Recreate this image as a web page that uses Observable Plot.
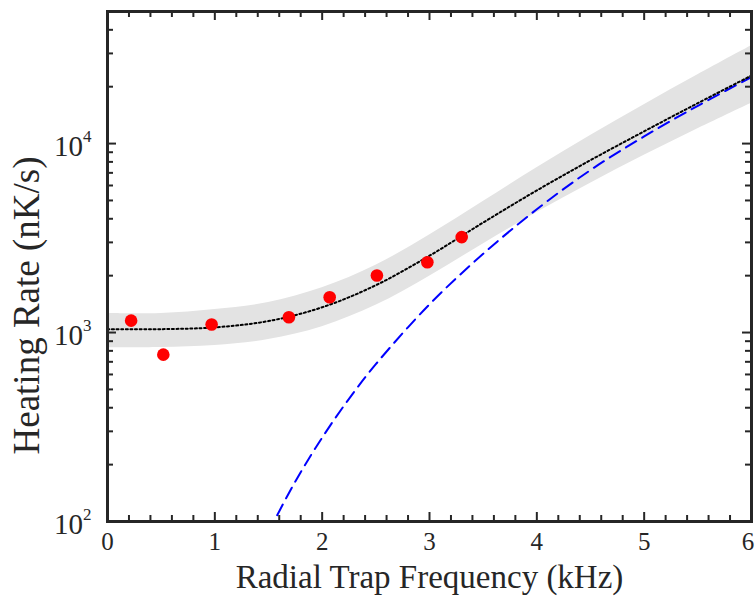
<!DOCTYPE html>
<html>
<head>
<meta charset="utf-8">
<script src="https://cdn.jsdelivr.net/npm/d3@7"></script>
<script src="https://cdn.jsdelivr.net/npm/@observablehq/plot@0.6"></script>
<style>
  html, body { margin: 0; padding: 0; background: #fff; }
  #chart svg { display: block; }
</style>
</head>
<body>
<div id="chart"></div>
<script>
// ---- data ----
const measFreq = [0.22, 0.52, 0.97, 1.69, 2.07, 2.51, 2.98, 3.30];      // kHz
const measRate = [1156, 764, 1102, 1205, 1538, 2004, 2355, 3200];       // nK/s

const fitFreq  = [0, 0.5, 1, 1.5, 2, 2.5, 3, 3.5, 4, 4.5, 5, 5.5, 6];
const fitRate  = [1040, 1042, 1065, 1150, 1360, 1780, 2550, 3820, 5650, 8170, 11610, 16370, 22910];
const bandLow  = [832, 834, 855, 918, 1074, 1393, 1986, 2944, 4315, 6170, 8670, 11990, 16370];
const bandHigh = [1260, 1262, 1324, 1442, 1726, 2270, 3281, 4930, 7460, 11040, 16070, 23120, 32900];

const modelFreq = [1.5, 1.75, 2, 2.25, 2.5, 3, 3.5, 4, 4.5, 5, 5.5, 6];
const modelRate = [88, 163, 278, 446, 680, 1410, 2610, 4490, 7240, 10910, 15850, 22490];

const xMajor = [0, 1, 2, 3, 4, 5, 6];
const xMinor = [0.2, 0.4, 0.6, 0.8, 1.2, 1.4, 1.6, 1.8, 2.2, 2.4, 2.6, 2.8, 3.2, 3.4, 3.6, 3.8,
                4.2, 4.4, 4.6, 4.8, 5.2, 5.4, 5.6, 5.8];
const yMajor = [100, 1000, 10000];
const yExponent = ["2", "3", "4"];
const yMinor = [200, 300, 400, 500, 600, 700, 800, 900,
                2000, 3000, 4000, 5000, 6000, 7000, 8000, 9000,
                20000, 30000, 40000];

const xLabel = "Radial Trap Frequency (kHz)";
const yLabel = "Heating Rate (nK/s)";

// ---- tables ----
const meas  = measFreq.map((f, i) => ({f, r: measRate[i]}));
const fit   = fitFreq.map((f, i) => ({f, r: fitRate[i]}));
const band  = fitFreq.map((f, i) => ({f, lo: bandLow[i], hi: bandHigh[i]}));
const model = modelFreq.map((f, i) => ({f, r: modelRate[i]}));
const yTickLabels = yMajor.map((v, i) => ({v, e: yExponent[i]}));

const ink = "#262626";
const W = 755, H = 598, mL = 107, mR = 4, mT = 11, mB = 77;
const fw = W - mL - mR, fh = H - mT - mB;
const major = 9, minor = 6;
const tick = {stroke: ink, strokeWidth: 2};

const chart = Plot.plot({
  width: W,
  height: H,
  marginLeft: mL,
  marginRight: mR,
  marginTop: mT,
  marginBottom: mB,
  x: {domain: [0, 6], axis: null},
  y: {type: "log", domain: [100, 50000], axis: null},
  style: {fontFamily: "'Liberation Serif', 'Times New Roman', serif", color: ink, background: "#fff"},
  marks: [
    Plot.areaY(band, {x: "f", y1: "lo", y2: "hi", fill: "#e3e3e3", curve: "catmull-rom"}),
    Plot.lineY(model, {x: "f", y: "r", stroke: "#0000ff", strokeWidth: 2, strokeDasharray: "12,7", curve: "catmull-rom", clip: true}),
    Plot.lineY(fit, {x: "f", y: "r", stroke: "#000", strokeWidth: 2, strokeDasharray: "2,2.6", curve: "catmull-rom"}),
    Plot.dot(meas, {x: "f", y: "r", r: 6.3, fill: "#ff0000"}),

    // inward ticks on all four sides
    Plot.ruleX(xMajor, {x: d => d, insetTop: fh - major, ...tick}),
    Plot.ruleX(xMinor, {x: d => d, insetTop: fh - minor, ...tick}),
    Plot.ruleX(xMajor, {x: d => d, insetBottom: fh - major, ...tick}),
    Plot.ruleX(xMinor, {x: d => d, insetBottom: fh - minor, ...tick}),
    Plot.ruleY(yMajor, {y: d => d, insetRight: fw - major, ...tick}),
    Plot.ruleY(yMinor, {y: d => d, insetRight: fw - minor, ...tick}),
    Plot.ruleY(yMajor, {y: d => d, insetLeft: fw - major, ...tick}),
    Plot.ruleY(yMinor, {y: d => d, insetLeft: fw - minor, ...tick}),

    // x tick labels
    Plot.text(xMajor.filter(d => d < 6), {x: d => d, frameAnchor: "bottom", text: d => String(d), textAnchor: "middle", lineAnchor: "top", dy: 11, fontSize: 25}),
    Plot.text(xMajor.filter(d => d === 6), {x: d => d, frameAnchor: "bottom", text: d => String(d), textAnchor: "middle", lineAnchor: "top", dy: 11, dx: -3.5, fontSize: 25}),

    // y tick labels: 10 with superscript exponent
    Plot.text(yTickLabels, {y: "v", frameAnchor: "left", text: () => "10", textAnchor: "end", lineAnchor: "bottom", dx: -24.5, dy: 12, fontSize: 29}),
    Plot.text(yTickLabels, {y: "v", frameAnchor: "left", text: "e", textAnchor: "start", lineAnchor: "bottom", dx: -24.5, dy: -1.5, fontSize: 17}),

    // axis titles
    Plot.text([xLabel], {frameAnchor: "bottom", text: d => d, textAnchor: "middle", lineAnchor: "bottom", dy: 66, fontSize: 33}),
    Plot.text([yLabel], {frameAnchor: "left", text: d => d, textAnchor: "middle", rotate: -90, lineAnchor: "bottom", dx: -68.5, dy: 39, fontSize: 37}),

    Plot.frame({stroke: ink, strokeWidth: 3})
  ]
});

document.getElementById("chart").appendChild(chart);
</script>
</body>
</html>
